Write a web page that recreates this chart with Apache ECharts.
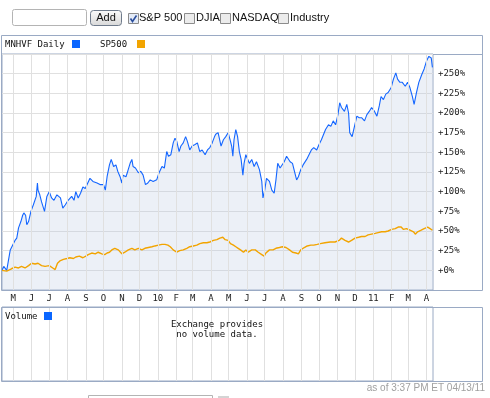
<!DOCTYPE html>
<html>
<head>
<meta charset="utf-8">
<script src="https://cdn.jsdelivr.net/npm/echarts@6/dist/echarts.min.js"></script>
<style>
  html, body { margin: 0; padding: 0; background: #fff; }
  #chart { width: 490px; height: 398px; }
</style>
</head>
<body>
<div id="chart"></div>
<script>
// [days since 2009-04-12, % change]
var mnhvf = [[0,0],[3,5],[8,0],[14,26],[18,32],[22,38],[25,41],[28,54],[32,62],[35,70],[37,73],[40,70],[42,58],[45,62],[49,75],[53,83],[56,81],[58,94],[60,111],[61,102],[64,96],[67,87],[70,89],[72,75],[76,94],[80,100],[84,92],[88,89],[93,96],[95,98],[99,92],[103,79],[107,83],[112,89],[118,94],[122,89],[125,100],[129,92],[133,98],[137,106],[141,104],[144,106],[149,117],[154,113],[157,115],[161,111],[166,109],[172,109],[175,102],[178,119],[182,134],[185,141],[189,132],[193,134],[196,126],[200,119],[203,111],[205,121],[210,119],[213,126],[217,136],[220,141],[222,132],[226,130],[231,124],[235,126],[239,121],[243,109],[247,111],[251,115],[256,113],[262,115],[266,124],[271,132],[275,130],[279,151],[282,145],[286,147],[290,162],[293,168],[296,164],[300,151],[303,158],[307,162],[311,170],[314,164],[318,153],[322,158],[327,160],[331,162],[335,151],[339,153],[344,147],[348,153],[352,156],[356,162],[360,170],[362,173],[366,175],[371,158],[375,166],[379,170],[383,175],[387,164],[389,158],[391,145],[393,166],[396,179],[399,170],[402,151],[405,141],[408,121],[410,136],[413,147],[416,149],[419,136],[423,141],[427,132],[431,138],[436,128],[440,113],[442,92],[445,102],[448,117],[453,113],[457,102],[461,98],[464,115],[467,136],[471,130],[474,132],[478,138],[482,145],[485,143],[488,138],[492,136],[496,124],[499,115],[502,119],[506,128],[510,134],[516,141],[520,147],[524,153],[528,156],[533,153],[537,160],[541,166],[544,164],[548,179],[553,185],[557,183],[561,190],[565,185],[569,198],[572,213],[575,207],[580,202],[584,211],[587,200],[589,175],[593,170],[597,183],[601,196],[605,194],[609,194],[614,190],[618,198],[622,202],[626,207],[631,202],[635,196],[639,209],[642,221],[646,217],[650,224],[654,226],[659,232],[663,243],[667,251],[670,243],[674,239],[678,239],[683,234],[687,239],[691,232],[695,221],[698,211],[702,226],[706,239],[711,249],[715,256],[719,266],[723,272],[727,270],[729,258]];

var sp500 = [[0,0],[2,-2],[8,-1],[16,2],[22,4],[28,3],[33,5],[39,3],[45,6],[50,9],[56,8],[61,9],[67,6],[73,5],[80,6],[86,3],[90,1],[94,9],[98,12],[104,14],[110,15],[115,16],[121,15],[125,17],[131,18],[137,16],[142,18],[146,20],[152,22],[158,21],[163,23],[169,21],[174,20],[178,22],[182,23],[186,26],[191,28],[197,26],[203,21],[208,23],[214,26],[220,28],[225,26],[231,28],[237,26],[242,28],[248,29],[254,30],[259,31],[265,32],[271,33],[276,33],[281,32],[285,30],[290,26],[296,23],[301,25],[307,26],[313,28],[318,30],[324,31],[330,32],[335,34],[341,35],[347,35],[352,36],[358,38],[364,39],[369,41],[374,42],[378,39],[383,38],[387,34],[392,32],[396,30],[400,28],[404,26],[409,23],[413,26],[417,23],[423,26],[429,26],[434,23],[440,20],[444,18],[447,22],[453,26],[459,26],[464,28],[470,29],[475,30],[481,29],[487,26],[492,23],[498,22],[502,21],[506,26],[512,29],[517,31],[523,32],[528,32],[534,33],[539,34],[547,35],[556,36],[564,36],[571,38],[575,41],[581,38],[587,36],[592,38],[598,41],[604,42],[609,43],[615,43],[620,45],[626,46],[632,47],[637,48],[643,49],[649,49],[654,50],[660,52],[666,53],[671,55],[676,55],[680,52],[685,53],[691,51],[697,49],[700,46],[704,49],[710,51],[715,53],[721,55],[725,53],[729,51]];

var monthStarts = ['2009-05','2009-06','2009-07','2009-08','2009-09','2009-10','2009-11','2009-12','2010-01','2010-02','2010-03','2010-04','2010-05','2010-06','2010-07','2010-08','2010-09','2010-10','2010-11','2010-12','2011-01','2011-02','2011-03','2011-04'];
var monthLabels = ['M','J','J','A','S','O','N','D','10','F','M','A','M','J','J','A','S','O','N','D','11','F','M','A'];

var yMin = -25, yMax = 275, yStep = 25;

var DAY = 864e5;
var start = new Date(2009, 3, 12).getTime();
var end = start + 730 * DAY;
function toTime(p) { return [start + p[0] * DAY, p[1]]; }
function monthTime(s) { var a = s.split('-'); return new Date(+a[0], +a[1] - 1, 1).getTime(); }

var mono = 'DejaVu Sans Mono';
var border = '#9aaac4';
var gridColor = '#e0e0e0';

var chart = echarts.init(document.getElementById('chart'), null, { renderer: 'canvas' });

var monthLines = monthStarts.map(function (m, i) {
  return { xAxis: monthTime(m), name: monthLabels[i] };
});

function checkbox(x, checked) {
  var els = [{
    type: 'rect', shape: { x: x + 0.5, y: 13.5, width: 10, height: 10 },
    style: { fill: checked ? '#e4ebf7' : '#ececec', stroke: '#8c8c8c', lineWidth: 1 }
  }];
  if (checked) {
    els.push({
      type: 'polyline', shape: { points: [[x + 2.5, 18.5], [x + 4.5, 21.5], [x + 8.5, 15.5]] },
      style: { stroke: '#2b4e9c', lineWidth: 1.6, fill: null }
    });
  }
  return els;
}
function label(x, y, text, opts) {
  opts = opts || {};
  return {
    type: 'text', x: x, y: y,
    style: {
      text: text, fill: opts.color || '#111',
      font: (opts.size || 9) + 'px ' + (opts.family || mono),
      textAlign: opts.align || 'left', textVerticalAlign: 'middle'
    }
  };
}

var graphics = [
  // toolbar
  { type: 'rect', shape: { x: 12.5, y: 9.5, width: 74, height: 16, r: 2 }, style: { fill: '#fff', stroke: '#b4b4b4' } },
  { type: 'rect', shape: { x: 90.5, y: 10.5, width: 31, height: 15, r: 3 },
    style: { stroke: '#6f7b8c', fill: new echarts.graphic.LinearGradient(0, 0, 0, 1, [{ offset: 0, color: '#fbfbfb' }, { offset: 1, color: '#d8d8d8' }]) } },
  label(106, 18, 'Add', { size: 11, family: 'Liberation Sans', align: 'center' }),
  label(139, 18, 'S&P 500', { size: 11, family: 'Liberation Sans' }),
  label(196, 18, 'DJIA', { size: 11, family: 'Liberation Sans' }),
  label(232, 18, 'NASDAQ', { size: 11, family: 'Liberation Sans' }),
  label(290, 18, 'Industry', { size: 11, family: 'Liberation Sans' }),
  // main panel frame
  { type: 'rect', shape: { x: 1.5, y: 35.5, width: 481, height: 255 }, style: { fill: null, stroke: border } },
  { type: 'line', shape: { x1: 433, y1: 54.5, x2: 482, y2: 54.5 }, style: { stroke: border } },
  label(5, 44.5, 'MNHVF Daily'),
  { type: 'rect', shape: { x: 72, y: 40, width: 8, height: 8 }, style: { fill: '#0a66ff' } },
  label(100, 44.5, 'SP500'),
  { type: 'rect', shape: { x: 137, y: 40, width: 8, height: 8 }, style: { fill: '#f2a400' } },
  // volume panel
  { type: 'rect', shape: { x: 1.5, y: 307.5, width: 481, height: 74 }, style: { fill: null, stroke: border } },
  label(5, 316.5, 'Volume'),
  { type: 'rect', shape: { x: 44, y: 312, width: 8, height: 8 }, style: { fill: '#0a66ff' } },
  label(217, 325, 'Exchange provides', { align: 'center' }),
  label(217, 335, 'no volume data.', { align: 'center' }),
  label(485, 388, 'as of 3:37 PM ET 04/13/11', { size: 10, family: 'Liberation Sans', color: '#a0a0a0', align: 'right' }),
  { type: 'rect', shape: { x: 88.5, y: 395.5, width: 124, height: 10 }, style: { fill: '#fff', stroke: '#b4b4b4' } },
  { type: 'rect', shape: { x: 218, y: 396, width: 11, height: 10 }, style: { fill: '#d4d4d4' } }
].concat(checkbox(128, true), checkbox(184, false), checkbox(220, false), checkbox(278, false));
graphics.forEach(function (g) { g.z = 100; });

var option = {
  animation: false,
  backgroundColor: '#fff',
  grid: [
    { left: 2, right: 57, top: 54, height: 236, show: true, borderColor: border, borderWidth: 1, backgroundColor: '#fff' },
    { left: 2, right: 57, top: 307, height: 74, show: true, borderColor: border, borderWidth: 1, backgroundColor: '#fff' }
  ],
  xAxis: [
    { type: 'time', gridIndex: 0, min: start, max: end, axisLabel: { show: false }, axisTick: { show: false }, axisLine: { show: false }, splitLine: { show: false } },
    { type: 'time', gridIndex: 1, min: start, max: end, axisLabel: { show: false }, axisTick: { show: false }, axisLine: { show: false }, splitLine: { show: false } }
  ],
  yAxis: [
    {
      type: 'value', gridIndex: 0, position: 'right', min: yMin, max: yMax, interval: yStep,
      axisLine: { show: false }, axisTick: { show: false },
      splitLine: { lineStyle: { color: gridColor, width: 1 } },
      axisLabel: {
        margin: 5, fontFamily: mono, fontSize: 9, color: '#222',
        formatter: function (v) { return (v >= 0 && v <= 250) ? '+' + v + '%' : ''; }
      }
    },
    { type: 'value', gridIndex: 1, min: 0, max: 1, show: false }
  ],
  graphic: graphics,
  series: [
    {
      type: 'line', xAxisIndex: 0, yAxisIndex: 0, data: [], z: 1, silent: true,
      markLine: {
        silent: true, symbol: ['none', 'none'], animation: false,
        lineStyle: { type: 'solid', color: gridColor, width: 1 },
        label: { show: true, position: 'start', distance: 4, formatter: '{b}', fontFamily: mono, fontSize: 9, color: '#222' },
        emphasis: { disabled: true },
        data: monthLines
      }
    },
    {
      type: 'line', xAxisIndex: 1, yAxisIndex: 1, data: [], z: 1, silent: true,
      markLine: {
        silent: true, symbol: ['none', 'none'], animation: false,
        lineStyle: { type: 'solid', color: gridColor, width: 1 },
        label: { show: false },
        emphasis: { disabled: true },
        data: monthLines.map(function (d) { return { xAxis: d.xAxis }; })
      }
    },
    {
      name: 'MNHVF Daily', type: 'line', xAxisIndex: 0, yAxisIndex: 0, z: 3,
      data: mnhvf.map(toTime), showSymbol: false, symbol: 'none',
      lineStyle: { color: '#1466ff', width: 1.1 },
      areaStyle: { color: 'rgba(185,200,225,0.38)', origin: 'start' }
    },
    {
      name: 'SP500', type: 'line', xAxisIndex: 0, yAxisIndex: 0, z: 4,
      data: sp500.map(toTime), showSymbol: false, symbol: 'none',
      lineStyle: { color: '#f2a400', width: 1.4 }
    }
  ]
};

chart.setOption(option);
</script>
</body>
</html>
